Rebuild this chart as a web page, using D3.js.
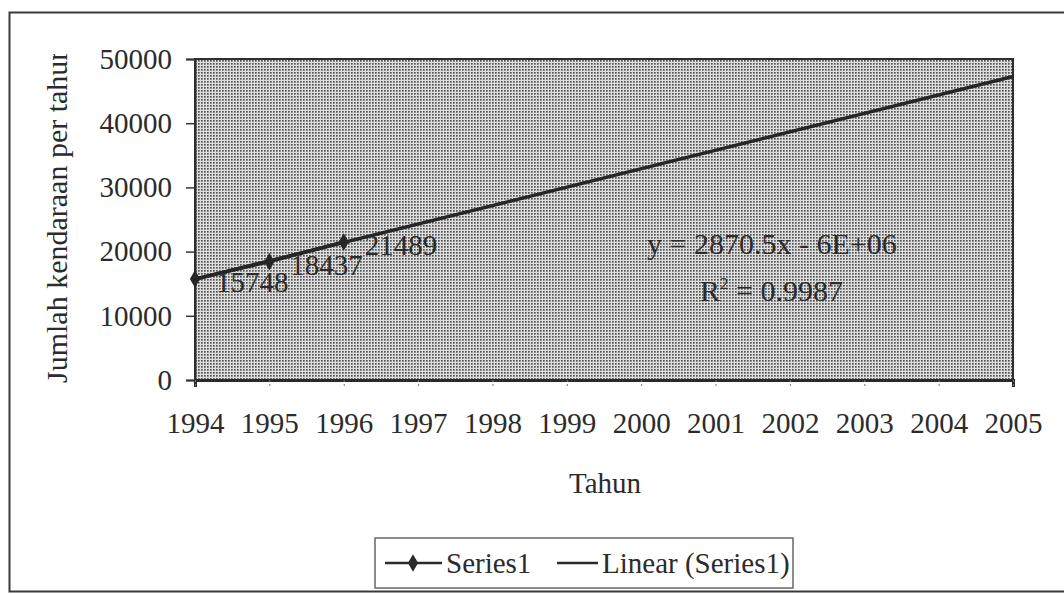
<!DOCTYPE html>
<html>
<head>
<meta charset="utf-8">
<script src="https://cdn.jsdelivr.net/npm/d3@7"></script>
<style>
  body { margin: 0; background: #fff; }
  text { font-family: "Liberation Serif", "Times New Roman", serif; fill: #2b2b2b; }
</style>
</head>
<body>
<div id="chart"></div>
<script>
// data
var years = ["1994","1995","1996","1997","1998","1999","2000","2001","2002","2003","2004","2005"];
var seriesYears = ["1994","1995","1996"];
var series1 = [15748, 18437, 21489];
var trendYears = ["1994","2005"];
var trendValues = [15688, 47263];
var yTicks = [0, 10000, 20000, 30000, 40000, 50000];

var width = 1064, height = 594;
var plotLeft = 195, plotRight = 1013, plotTop = 59, plotBottom = 380;
var fs = "29px";

var svg = d3.select("#chart")
  .append("svg")
    .attr("width", width)
    .attr("height", height);

// dotted grey fill of the plot area
var defs = svg.append("defs");
var pat = defs.append("pattern")
    .attr("id", "dots")
    .attr("width", 3)
    .attr("height", 3)
    .attr("patternUnits", "userSpaceOnUse");
pat.append("rect").attr("width", 3).attr("height", 3).attr("fill", "#dedede");
pat.append("rect").attr("width", 1.7).attr("height", 1.7).attr("fill", "#555");

defs.append("clipPath").attr("id", "ytitleclip")
  .append("rect").attr("x", 0).attr("y", 54).attr("width", 120).attr("height", 400);

// outer chart frame
svg.append("rect")
    .attr("x", 9.5)
    .attr("y", 12.5)
    .attr("width", 1070)
    .attr("height", 579)
    .attr("fill", "none")
    .attr("stroke", "#3a3a3a")
    .attr("stroke-width", 2);

var x = d3.scalePoint()
    .domain(years)
    .range([plotLeft, plotRight]);

var y = d3.scaleLinear()
    .domain([0, 50000])
    .range([plotBottom, plotTop]);

// plot area
svg.append("rect")
    .attr("x", plotLeft)
    .attr("y", plotTop)
    .attr("width", plotRight - plotLeft)
    .attr("height", plotBottom - plotTop)
    .attr("fill", "url(#dots)")
    .attr("stroke", "#2e2e2e")
    .attr("stroke-width", 2);

// y axis
var yAxis = svg.append("g")
    .attr("transform", "translate(" + plotLeft + ",0)")
    .call(d3.axisLeft(y).tickValues(yTicks).tickFormat(d3.format("d")).tickSize(9).tickPadding(14));
yAxis.select(".domain").attr("stroke", "#2e2e2e").attr("stroke-width", 2);
yAxis.selectAll(".tick line").attr("stroke", "#333").attr("stroke-width", 1.5);
yAxis.selectAll("text")
    .style("font-size", fs)
    .attr("fill", "#2b2b2b");

// x axis
var xAxis = svg.append("g")
    .attr("transform", "translate(0," + plotBottom + ")")
    .call(d3.axisBottom(x).tickSize(7).tickPadding(25));
xAxis.select(".domain").attr("stroke", "#2a2a2a").attr("stroke-width", 3);
xAxis.selectAll(".tick line").attr("stroke", "#777").attr("stroke-width", 1).attr("stroke-dasharray", "2,2");
xAxis.selectAll("text")
    .style("font-size", fs)
    .attr("fill", "#2b2b2b");

// lines
var line = d3.line()
    .x(function(d) { return x(d.year); })
    .y(function(d) { return y(d.value); });

var trend = trendYears.map(function(d, i) { return {year: d, value: trendValues[i]}; });
var pts = seriesYears.map(function(d, i) { return {year: d, value: series1[i]}; });

svg.append("path")
    .datum(trend)
    .attr("d", line)
    .attr("fill", "none")
    .attr("stroke", "#262626")
    .attr("stroke-width", 3.5);

svg.append("path")
    .datum(pts)
    .attr("d", line)
    .attr("fill", "none")
    .attr("stroke", "#262626")
    .attr("stroke-width", 3.5);

var diamond = d3.symbol().type(d3.symbolDiamond).size(90);
svg.selectAll(".pt")
    .data(pts)
    .enter()
    .append("path")
    .attr("class", "pt")
    .attr("transform", function(d) { return "translate(" + x(d.year) + "," + y(d.value) + ")"; })
    .attr("d", diamond)
    .attr("fill", "#262626");

// data labels
svg.selectAll(".lbl")
    .data(pts)
    .enter()
    .append("text")
    .attr("class", "lbl")
    .attr("x", function(d) { return x(d.year) + 21; })
    .attr("y", function(d) { return y(d.value) + 3; })
    .attr("dy", "0.35em")
    .style("font-size", fs)
    .text(function(d) { return d.value; });

// equation
svg.append("text")
    .attr("x", 647)
    .attr("y", 243)
    .attr("dy", "0.35em")
    .style("font-size", "30px")
    .text("y = 2870.5x - 6E+06");
var r2 = svg.append("text")
    .attr("x", 700)
    .attr("y", 290)
    .attr("dy", "0.35em")
    .style("font-size", "30px");
r2.append("tspan").text("R");
r2.append("tspan").attr("dy", "-12").style("font-size", "17px").text("2");
r2.append("tspan").attr("dy", "12").text(" = 0.9987");

// axis titles
svg.append("g")
    .attr("clip-path", "url(#ytitleclip)")
  .append("text")
    .attr("transform", "translate(67,383) rotate(-90)")
    .attr("text-anchor", "start")
    .style("font-size", "30px")
    .text("Jumlah kendaraan per tahun");

svg.append("text")
    .attr("x", 605)
    .attr("y", 483)
    .attr("dy", "0.35em")
    .attr("text-anchor", "middle")
    .style("font-size", fs)
    .text("Tahun");

// legend
var lg = svg.append("g");
lg.append("rect")
    .attr("x", 375)
    .attr("y", 538)
    .attr("width", 418)
    .attr("height", 50)
    .attr("fill", "#fff")
    .attr("stroke", "#666")
    .attr("stroke-width", 1.5);
lg.append("line")
    .attr("x1", 385).attr("x2", 442).attr("y1", 563).attr("y2", 563)
    .attr("stroke", "#2a2a2a").attr("stroke-width", 2.5);
lg.append("path")
    .attr("transform", "translate(413,563)")
    .attr("d", diamond)
    .attr("fill", "#2a2a2a");
lg.append("text")
    .attr("x", 446).attr("y", 563).attr("dy", "0.35em")
    .style("font-size", fs)
    .text("Series1");
lg.append("line")
    .attr("x1", 557).attr("x2", 598).attr("y1", 563).attr("y2", 563)
    .attr("stroke", "#2a2a2a").attr("stroke-width", 2.5);
lg.append("text")
    .attr("x", 602).attr("y", 563).attr("dy", "0.35em")
    .style("font-size", fs)
    .text("Linear (Series1)");
</script>
</body>
</html>
